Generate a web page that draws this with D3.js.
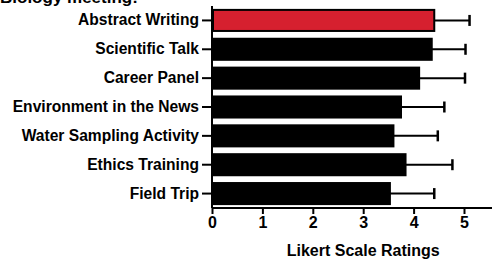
<!DOCTYPE html>
<html>
<head>
<meta charset="utf-8">
<script src="https://cdnjs.cloudflare.com/ajax/libs/d3/7.8.5/d3.min.js"></script>
<style>
  body { margin: 0; font-family: 'Liberation Sans', Arial, sans-serif; }
  svg text { font-weight: bold; fill: #000; }
</style>
</head>
<body>
<svg id="chart" width="492" height="259"></svg>
<script>
// data
var activities = ["Abstract Writing", "Scientific Talk", "Career Panel", "Environment in the News",
                  "Water Sampling Activity", "Ethics Training", "Field Trip"];
var means = [4.41, 4.36, 4.11, 3.75, 3.60, 3.84, 3.53];
var errors = [0.70, 0.67, 0.91, 0.86, 0.88, 0.93, 0.88];
var xTicks = [0, 1, 2, 3, 4, 5];

var margin = {top: 6, right: 0, bottom: 51, left: 212},
    width = 492 - margin.left - margin.right,
    height = 259 - margin.top - margin.bottom;

var svg = d3.select("#chart")
  .append("g")
    .attr("transform", "translate(" + margin.left + "," + margin.top + ")");

var x = d3.scaleLinear().domain([0, 280 / 50.4]).range([0, width]);
var y = d3.scaleBand().domain(activities).range([0, height]).paddingInner(0.27).paddingOuter(0.135);

// title, mostly cut off at the top
svg.append("text")
  .attr("x", -margin.left)
  .attr("y", -3)
  .style("font-size", "17px")
  .text("Biology meeting:");

// bars
svg.selectAll(".bar")
  .data(activities)
  .enter()
  .append("rect")
    .attr("x", 1)
    .attr("y", function (d) { return y(d); })
    .attr("width", function (d, i) { return x(means[i]) - 1; })
    .attr("height", y.bandwidth())
    .style("fill", function (d, i) { return i === 0 ? "#d6202f" : "#000"; })
    .style("stroke", "#000")
    .style("stroke-width", 2);

// error bars
svg.selectAll(".err")
  .data(activities)
  .enter()
  .append("line")
    .attr("x1", function (d, i) { return x(means[i]); })
    .attr("x2", function (d, i) { return x(means[i] + errors[i]); })
    .attr("y1", function (d) { return y(d) + y.bandwidth() / 2; })
    .attr("y2", function (d) { return y(d) + y.bandwidth() / 2; })
    .style("stroke", "#000")
    .style("stroke-width", 2);

svg.selectAll(".cap")
  .data(activities)
  .enter()
  .append("line")
    .attr("x1", function (d, i) { return x(means[i] + errors[i]); })
    .attr("x2", function (d, i) { return x(means[i] + errors[i]); })
    .attr("y1", function (d) { return y(d) + y.bandwidth() / 2 - 5.5; })
    .attr("y2", function (d) { return y(d) + y.bandwidth() / 2 + 5.5; })
    .style("stroke", "#000")
    .style("stroke-width", 2.5);

// axes
var xAxis = svg.append("g")
  .attr("transform", "translate(0," + height + ")")
  .call(d3.axisBottom(x).tickValues(xTicks).tickFormat(d3.format("d")).tickSize(6).tickPadding(3));
xAxis.selectAll("text").style("font-size", "16px");

var yAxis = svg.append("g")
  .call(d3.axisLeft(y).tickSize(10).tickPadding(3));
yAxis.selectAll("text").style("font-size", "15.6px");

svg.selectAll(".domain, .tick line").style("stroke", "#000").style("stroke-width", 2);
yAxis.select(".domain").attr("d", "M0,0V" + height);
xAxis.select(".domain").attr("d", "M0,0H" + width);

svg.append("text")
  .attr("x", x(3.0))
  .attr("y", height + 47.5)
  .attr("text-anchor", "middle")
  .style("font-size", "16px")
  .text("Likert Scale Ratings");
</script>
</body>
</html>
